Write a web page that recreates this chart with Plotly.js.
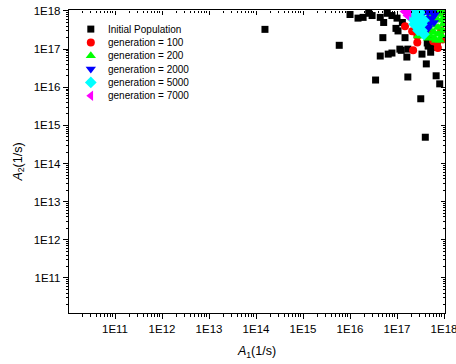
<!DOCTYPE html>
<html>
<head>
<meta charset="utf-8">
<script src="https://cdn.plot.ly/plotly-3.0.1.min.js"></script>
<style>html,body{margin:0;padding:0;background:#fff;}#chart{width:456px;height:364px;}</style>
</head>
<body>
<div id="chart"></div>
<script>
// ---- data (A1, A2 in 1/s) ----
const seriesNames = ['Initial Population', 'generation = 100', 'generation = 200',
  'generation = 2000', 'generation = 5000', 'generation = 7000'];

const initA1 = [1.55e14, 5.9e15, 1.0e16, 1.48e16, 1.9e16, 2.5e16, 2.95e16, 4.4e16, 5.2e16, 7.8e16,
  1.0e17, 9.5e16, 5.0e16, 4.4e16, 6.5e16, 7.8e16, 1.23e17, 1.62e17, 1.7e17, 3.4e17,
  5.2e17, 4.2e17, 3.5e16, 1.7e17, 6.8e17, 8.1e17, 3.2e17, 4.0e17, 1.48e17, 4.4e17,
  5.5e17, 7.1e17, 6.2e16, 1.05e17, 1.15e17, 4.6e17, 5.5e17, 1.3e17];
const initA2 = [3.3e17, 1.26e17, 8.1e17, 6.5e17, 6.8e17, 8.7e17, 7.6e17, 6.8e17, 5.0e17, 7.6e17,
  6.5e17, 3.5e17, 2.0e17, 6.6e16, 7.4e16, 7.9e16, 9.3e16, 6.2e16, 1.0e17, 7.4e16,
  8.3e16, 4.1e16, 1.55e16, 1.86e16, 2.0e16, 1.23e16, 5.0e15, 4.9e14, 2.0e17, 1.45e17,
  1.12e17, 1.5e17, 8.7e17, 3.0e17, 1.0e17, 1.2e17, 1.8e17, 5.0e17];

const gen100A1 = [1.48e17, 2.1e17, 2.7e17, 2.7e17, 2.2e17, 5.9e17, 7.1e17, 9.5e17, 7.4e17, 9.9e17, 4.6e17, 8.7e17];
const gen100A2 = [4.0e17, 2.95e17, 2.2e17, 1.5e17, 9.3e16, 1.6e17, 1.45e17, 1.8e17, 1.07e17, 9.9e17, 2.6e17, 3.1e17];

const gen200A1 = [9.5e17, 9.5e17, 9.5e17, 9.5e17, 9.06e17, 7.45e17, 7.45e17, 7.45e17, 7.45e17, 6.12e17,
  6.12e17, 6.12e17, 6.12e17, 6.12e17, 5.0e17, 5.0e17, 5.0e17, 5.0e17, 4.14e17, 4.14e17,
  4.14e17, 3.4e17, 3.4e17, 2.8e17, 8.2e17, 6.76e17, 4.57e17, 8.6e17, 6.76e17];
const gen200A2 = [9.1e17, 6.4e17, 4.5e17, 3.1e17, 2.2e17, 8.1e17, 5.7e17, 3.7e17, 2.45e17, 9.1e17,
  6.4e17, 4.2e17, 2.76e17, 1.93e17, 7.6e17, 5.0e17, 3.3e17, 2.3e17, 5.7e17, 3.5e17,
  2.45e17, 3.1e17, 2.2e17, 2.2e17, 1.7e17, 1.7e17, 1.93e17, 9.9e17, 9.9e17];

const gen2000A1 = [3.75e17, 4.57e17, 5.56e17, 3.75e17, 4.57e17, 5.56e17, 4.14e17, 5.0e17, 6.12e17, 4.57e17, 3.4e17, 6.4e17];
const gen2000A2 = [9.1e17, 9.1e17, 9.1e17, 6.4e17, 6.4e17, 6.4e17, 4.5e17, 4.5e17, 5.0e17, 3.5e17, 5.0e17, 8.1e17];

const gen5000A1 = [2.09e17, 2.54e17, 3.08e17, 2.09e17, 2.54e17, 3.08e17, 2.3e17, 2.8e17, 3.4e17, 2.8e17, 3.4e17, 3.75e17, 1.89e17, 3.75e17];
const gen5000A2 = [9.1e17, 9.1e17, 9.1e17, 6.4e17, 6.4e17, 6.4e17, 4.5e17, 4.5e17, 4.5e17, 3.1e17, 3.1e17, 2.45e17, 8.1e17, 5.7e17];

const gen7000A1 = [1.55e17, 1.8e17, 1.63e17, 1.41e17];
const gen7000A2 = [9.1e17, 9.1e17, 7.6e17, 9.7e17];

const tickVals = [1e11, 1e12, 1e13, 1e14, 1e15, 1e16, 1e17, 1e18];
const tickText = ['1E11', '1E12', '1E13', '1E14', '1E15', '1E16', '1E17', '1E18'];

// minor tick positions (2..9 within each decade)
const minorVals = [];
for (let e = 10; e <= 17; e++) {
  for (let d = 2; d <= 9; d++) minorVals.push(d * Math.pow(10, e));
}

// ---- styles ----
const styles = [
  {symbol: 'square', color: '#000000', size: 7},
  {symbol: 'circle', color: '#ff0000', size: 8},
  {symbol: 'triangle-up', color: '#00ff00', size: 9},
  {symbol: 'triangle-down', color: '#0000ff', size: 9},
  {symbol: 'diamond', color: '#00ffff', size: 9},
  {symbol: 'triangle-left', color: '#ff00ff', size: 9}
];
const xs = [initA1, gen100A1, gen200A1, gen2000A1, gen5000A1, gen7000A1];
const ys = [initA2, gen100A2, gen200A2, gen2000A2, gen5000A2, gen7000A2];

const FONT = 'Liberation Sans, Arial, sans-serif';
const traces = [];
for (let i = 0; i < 6; i++) {
  traces.push({
    type: 'scatter', mode: 'markers', name: seriesNames[i],
    x: xs[i], y: ys[i], showlegend: false,
    marker: {symbol: styles[i].symbol, color: styles[i].color, size: styles[i].size, line: {width: 0}}
  });
}
// legend symbols on a hidden 0..1 overlay axis
const legX = 0.058;
const legY = [0.937, 0.893, 0.849, 0.805, 0.761, 0.717];
const annotations = [];
for (let i = 0; i < 6; i++) {
  traces.push({
    type: 'scatter', mode: 'markers', xaxis: 'x3', yaxis: 'y3', showlegend: false,
    x: [legX], y: [legY[i]], hoverinfo: 'skip', cliponaxis: false,
    marker: {symbol: styles[i].symbol, color: styles[i].color, size: styles[i].size, line: {width: 0}}
  });
  annotations.push({
    xref: 'paper', yref: 'paper', x: 0.098, y: legY[i], xanchor: 'left', yanchor: 'middle',
    text: seriesNames[i], showarrow: false, font: {family: FONT, size: 10, color: '#000'}
  });
}
// invisible points that activate the extra tick axes
[['x2', 'y2'], ['x4', 'y4'], ['x5', 'y5']].forEach(function (p) {
  traces.push({type: 'scatter', mode: 'markers', x: [1e15], y: [1e15], xaxis: p[0], yaxis: p[1],
    showlegend: false, hoverinfo: 'skip', marker: {opacity: 0, size: 1}});
});

const xRange = [10.021, 18.021];
const yRange = [10.082, 18.026];

const baseAxis = {
  type: 'log', showgrid: false, zeroline: false, showline: true, linecolor: '#000', linewidth: 1.2,
  tickmode: 'array', tickvals: tickVals, ticktext: tickText,
  ticks: 'outside', ticklen: 5, tickwidth: 1, tickcolor: '#000', ticklabeloverflow: 'allow',
  tickfont: {family: FONT, size: 11.5, color: '#000'}, fixedrange: true
};
function tickAxis(range, over, side, pos, vals, dir, len) {
  return {
    type: 'log', range: range, overlaying: over, side: side, anchor: 'free', position: pos,
    showgrid: false, zeroline: false, showline: false, showticklabels: false,
    tickmode: 'array', tickvals: vals, ticks: dir, ticklen: len, tickwidth: 1, tickcolor: '#000',
    fixedrange: true
  };
}

const layout = {
  width: 456, height: 364,
  margin: {l: 69, r: 11, t: 10, b: 51, pad: 0},
  paper_bgcolor: '#fff', plot_bgcolor: '#fff',
  showlegend: false,
  xaxis: Object.assign({}, baseAxis, {
    range: xRange, mirror: true,
    title: {text: '<i>A</i><sub>1</sub>(1/s)', font: {family: FONT, size: 12.5, color: '#000'}, standoff: 12}
  }),
  yaxis: Object.assign({}, baseAxis, {
    range: yRange, mirror: true,
    title: {text: '<i>A</i><sub>2</sub>(1/s)', font: {family: FONT, size: 12.5, color: '#000'}, standoff: 8}
  }),
  // top / right major ticks (inside)
  xaxis2: tickAxis(xRange, 'x', 'top', 1, tickVals, 'inside', 4),
  yaxis2: tickAxis(yRange, 'y', 'right', 1, tickVals, 'inside', 4),
  // bottom / left minor ticks (outside)
  xaxis4: tickAxis(xRange, 'x', 'bottom', 0, minorVals, 'outside', 3),
  yaxis4: tickAxis(yRange, 'y', 'left', 0, minorVals, 'outside', 3),
  // top / right minor ticks (inside)
  xaxis5: tickAxis(xRange, 'x', 'top', 1, minorVals, 'inside', 2),
  yaxis5: tickAxis(yRange, 'y', 'right', 1, minorVals, 'inside', 2),
  xaxis3: {range: [0, 1], overlaying: 'x', visible: false, fixedrange: true},
  yaxis3: {range: [0, 1], overlaying: 'y', visible: false, fixedrange: true},
  annotations: annotations
};

Plotly.newPlot('chart', traces, layout, {displayModeBar: false, staticPlot: true});
</script>
</body>
</html>
